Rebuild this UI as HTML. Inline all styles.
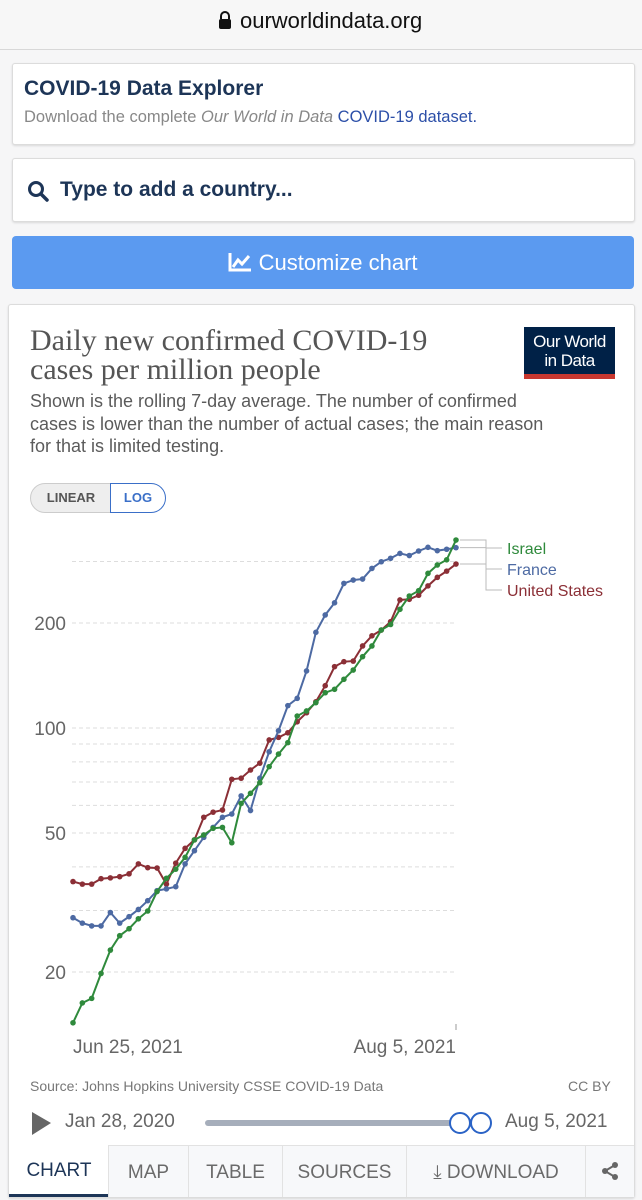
<!DOCTYPE html>
<html><head><meta charset="utf-8"><style>
*{box-sizing:border-box;margin:0;padding:0}
body{width:642px;height:1200px;background:#f6f6f7;font-family:"Liberation Sans",sans-serif;position:relative;overflow:hidden}
.a{position:absolute}
.card{background:#fff;border:1px solid #dcdcdc;border-radius:3px;box-shadow:0 1px 2px rgba(0,0,0,.12)}
.tab{position:absolute;top:1145px;height:52px;border-left:1px solid #e2e2e2;background:#f7f8fa;color:#6a6a6a;font-size:19px;line-height:54px;text-align:center}
</style></head><body>
<div class="a" style="left:0;top:0;width:642px;height:50px;background:#f7f7f7;border-bottom:1px solid #d8d8d8">
 <svg class="a" style="left:218px;top:11px" width="14" height="18"><path d="M3 8 V5 a4 4 0 0 1 8 0 V8" fill="none" stroke="#111" stroke-width="2"/><rect x="1" y="8" width="12" height="10" rx="2" fill="#111"/></svg>
 <div class="a" style="left:240px;top:8px;font-size:22px;color:#111">ourworldindata.org</div>
</div>
<div class="a card" style="left:12px;top:63px;width:623px;height:82px">
 <div class="a" style="left:11px;top:13px;font-size:21px;font-weight:bold;color:#1d3557">COVID-19 Data Explorer</div>
 <div class="a" style="left:11px;top:44px;font-size:16.5px;color:#888;white-space:nowrap">Download the complete <i>Our World in Data</i> <span style="color:#2c4fa8">COVID-19 dataset.</span></div>
</div>
<div class="a card" style="left:12px;top:158px;width:623px;height:64px">
 <svg class="a" style="left:14px;top:21px" width="22" height="22"><circle cx="9" cy="9" r="6.5" fill="none" stroke="#1d3557" stroke-width="3"/><line x1="14" y1="14" x2="20" y2="20" stroke="#1d3557" stroke-width="3.5" stroke-linecap="round"/></svg>
 <div class="a" style="left:47px;top:19px;font-size:21px;font-weight:bold;color:#1d3557">Type to add a country...</div>
</div>
<div class="a" style="left:12px;top:236px;width:622px;height:53px;background:#5b9af0;border-radius:4px;color:#fff;font-size:22px;text-align:center;line-height:54px">
 <svg width="24" height="20" style="vertical-align:-2px"><path d="M2 1 V18 H23" fill="none" stroke="#fff" stroke-width="3"/><path d="M5 15 L10 8 L14 12 L21 4" fill="none" stroke="#fff" stroke-width="3"/></svg> Customize chart
</div>
<div class="a card" style="left:8px;top:304px;width:627px;height:894px"></div>
<div class="a" style="left:30px;top:326px;font-family:'Liberation Serif',serif;font-size:30px;line-height:29px;color:#555;white-space:nowrap">Daily new confirmed COVID-19<br>cases per million people</div>
<div class="a" style="left:524px;top:327px;width:91px;height:52px;background:#002147;border-bottom:5px solid #c8372f;color:#fff;font-size:17px;line-height:19px;text-align:center;padding-top:5px;letter-spacing:-.5px">Our World<br>in Data</div>
<div class="a" style="left:30px;top:390px;font-size:18px;line-height:22.5px;color:#5b5b5b;white-space:nowrap">Shown is the rolling 7-day average. The number of confirmed<br>cases is lower than the number of actual cases; the main reason<br>for that is limited testing.</div>
<div class="a" style="left:30px;top:483px;width:82px;height:30px;background:#eee;border:1px solid #ccc;border-radius:15px 0 0 15px;font-size:13px;font-weight:bold;color:#555;line-height:28px;text-align:center">LINEAR</div>
<div class="a" style="left:110px;top:483px;width:56px;height:30px;background:#fff;border:1.5px solid #3a6fc8;border-radius:0 15px 15px 0;font-size:13px;font-weight:bold;color:#3a6fc8;line-height:27px;text-align:center">LOG</div>
<svg class="a" style="left:0;top:0" width="642" height="1200" id="chart"></svg>
<div class="a" style="left:30px;top:1078px;font-size:14px;color:#777">Source: Johns Hopkins University CSSE COVID-19 Data</div>
<div class="a" style="left:568px;top:1078px;font-size:14px;color:#777">CC BY</div>
<svg class="a" style="left:31px;top:1111px" width="22" height="26"><path d="M1 1 L20 12 L1 24Z" fill="#666"/></svg>
<div class="a" style="left:65px;top:1111px;font-size:19px;color:#666">Jan 28, 2020</div>
<div class="a" style="left:205px;top:1120px;width:255px;height:6px;background:#a6aebb;border-radius:3px"></div>
<div class="a" style="left:449px;top:1112px;width:22px;height:22px;border:2px solid #2a63c6;background:#fff;border-radius:50%"></div>
<div class="a" style="left:470px;top:1112px;width:22px;height:22px;border:2px solid #2a63c6;background:#fff;border-radius:50%"></div>
<div class="a" style="left:505px;top:1111px;font-size:19px;color:#666">Aug 5, 2021</div>
<div class="tab" style="left:9px;width:100px;background:#fff;color:#1d3557;border-left:none;border-bottom:3px solid #1d3557;line-height:52px">CHART</div>
<div class="tab" style="left:108px;width:80px;border-top:1px solid #e2e2e2">MAP</div>
<div class="tab" style="left:188px;width:94px;border-top:1px solid #e2e2e2">TABLE</div>
<div class="tab" style="left:282px;width:124px;border-top:1px solid #e2e2e2">SOURCES</div>
<div class="tab" style="left:406px;width:179px;border-top:1px solid #e2e2e2">⤓ DOWNLOAD</div>
<div class="tab" style="left:585px;width:49px;border-top:1px solid #e2e2e2">
 <svg width="20" height="20" style="vertical-align:-3px"><circle cx="15" cy="4" r="3" fill="#666"/><circle cx="15" cy="16" r="3" fill="#666"/><circle cx="5" cy="10" r="3" fill="#666"/><path d="M15 4 L5 10 L15 16" stroke="#666" stroke-width="2" fill="none"/></svg></div>
<script>
const dates=["Jun 25, 2021","Aug 5, 2021"];
const gridValues=[20,30,40,50,60,70,80,90,100,200,300];
const tickLabels=[20,50,100,200];
const seriesNames=["Israel","France","United States"];
const israel=[14.3,16.3,16.8,19.8,23.1,25.4,26.6,28.4,29.9,34.0,37.1,39.4,42.6,47.8,49.4,51.6,51.9,46.9,60.8,65.0,69.7,77.5,84.2,90.8,108.2,111.9,118.2,126.2,129.1,137.9,146.6,160.1,171.8,190.9,198.0,218.8,238.9,247.4,277.4,293.2,303.3,345.6];
const france=[28.6,27.6,27.1,27.1,29.6,27.6,28.8,30.2,32.0,34.2,34.6,35.1,40.8,44.5,48.6,51.9,55.5,56.7,63.9,58.0,71.8,85.5,98.2,115.9,121.6,145.7,188,210.8,228.4,259.6,265.4,267.2,286.6,299.5,306.4,316.4,312,321.5,329.4,322.2,325.2,328.6];
const usa=[36.3,35.7,35.7,37.0,37.2,37.5,38.2,40.8,39.8,39.7,35.7,41.0,45.2,47.8,55.5,57.4,58.2,71.3,71.8,75.8,79.3,92.4,94.0,96.9,104.2,110.6,118.9,132.2,149.9,154.9,155.5,171.8,183.7,190.8,201.6,232.8,233.8,240.1,255.4,270.2,281.5,295];
const colors=["#2f8a3c","#4d6aa3","#8b2f36"];
const ns="http://www.w3.org/2000/svg",svg=document.getElementById('chart');
const N=israel.length,x0=73,x1=456;
const x=i=>x0+(x1-x0)*i/(N-1);
const y=v=>728-349*Math.log10(v/100);
function mk(t,a){const e=document.createElementNS(ns,t);for(const k in a)e.setAttribute(k,a[k]);svg.appendChild(e);return e;}
gridValues.forEach(v=>{const l=mk('line',{x1:72,x2:456,y1:y(v),y2:y(v),stroke:'#ddd','stroke-dasharray':'4,3'});

});
tickLabels.forEach(v=>{const t=mk('text',{x:66,y:y(v)+7,'text-anchor':'end','font-size':19,fill:'#666','font-family':'Liberation Sans'});t.textContent=v;

});
mk('line',{x1:456,x2:456,y1:1024,y2:1030,stroke:'#999'});
const xl1=mk('text',{x:73,y:1053,'font-size':19,fill:'#666','font-family':'Liberation Sans'});xl1.textContent=dates[0];


const xl2=mk('text',{x:456,y:1053,'text-anchor':'end','font-size':19,fill:'#666','font-family':'Liberation Sans'});xl2.textContent=dates[1];


const all=[usa,france,israel],cols=[colors[2],colors[1],colors[0]],nm=['united-states','france','israel'];
all.forEach((s,k)=>{
 const p=mk('polyline',{points:s.map((v,i)=>x(i)+','+y(v)).join(' '),fill:'none',stroke:cols[k],'stroke-width':2});
 
 
 s.forEach((v,i)=>{const c=mk('circle',{cx:x(i),cy:y(v),r:2.8,fill:cols[k]});
 
 });
});
const labelY=[548,569,590],lastVals=[israel[N-1],france[N-1],usa[N-1]];
seriesNames.forEach((n,k)=>{
 const ly=y(lastVals[k]),tx=486;
 mk('polyline',{points:`460,${ly} ${tx},${ly} ${tx},${labelY[k]} 502,${labelY[k]}`,fill:'none',stroke:'#bbb','stroke-width':1});
 const t=mk('text',{x:507,y:labelY[k]+6,'font-size':16,fill:colors[k],'font-family':'Liberation Sans'});t.textContent=n;
 
 
});
</script>
</body></html>
